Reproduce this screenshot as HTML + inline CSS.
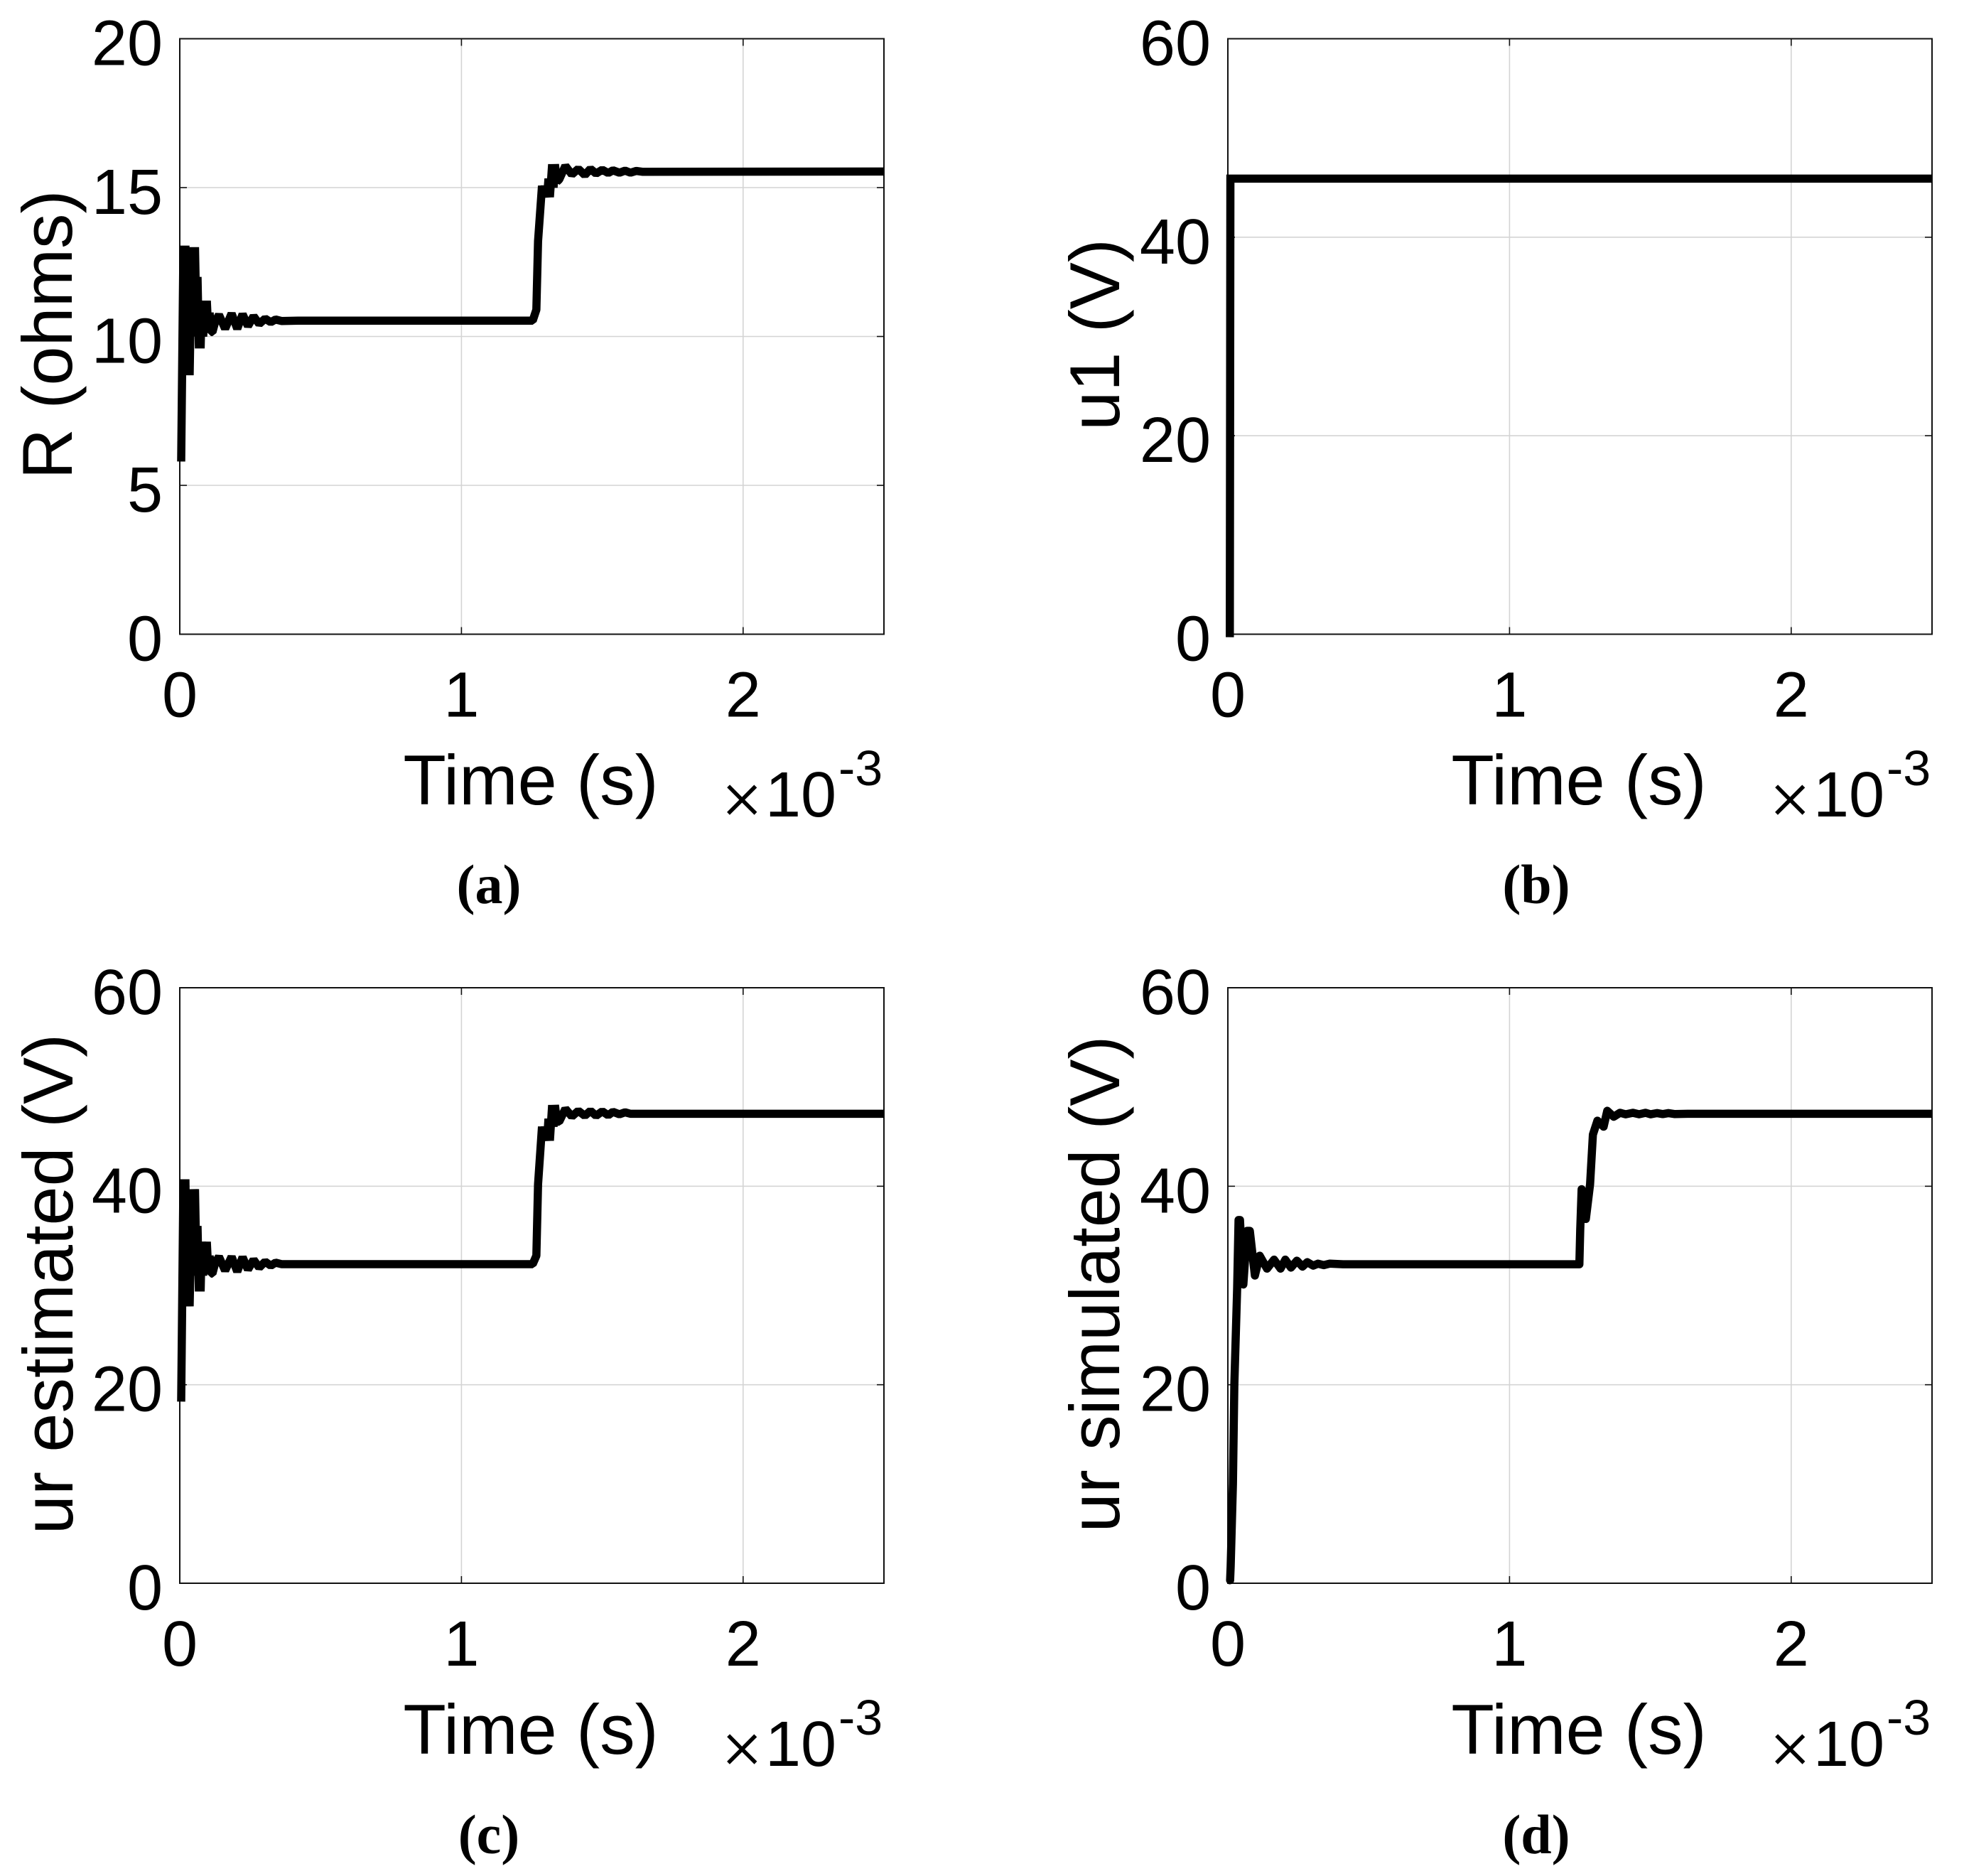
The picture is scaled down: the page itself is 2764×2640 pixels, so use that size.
<!DOCTYPE html>
<html lang="en">
<head>
<meta charset="utf-8">
<title>Four time-response charts</title>
<style>
html,body{margin:0;padding:0;background:#fff;}
svg{display:block;}
text{font-family:"Liberation Sans",Arial,sans-serif;fill:#000;}
.tick{font-size:90px;}
.lab{font-size:99px;}
.times{font-size:100px;stroke:#fff;stroke-width:1.6px;}
.cap{font-family:"Liberation Serif","Times New Roman",serif;font-size:78px;font-weight:bold;}
</style>
</head>
<body>
<svg id="figure" width="2764" height="2640" viewBox="0 0 2764 2640" xmlns="http://www.w3.org/2000/svg">
<rect x="0" y="0" width="2764" height="2640" fill="#fff"/>

<g id="panel-a">
  <text class="lab" transform="translate(101 471) rotate(-90)" text-anchor="middle">R (ohms)</text>
  <text class="lab" x="747" y="1132" text-anchor="middle">Time (s)</text>
  <text class="times" x="1015" y="1159">×</text>
  <text class="tick" x="1077" y="1149">10</text>
  <text style="font-size:70px" x="1180" y="1105">-3</text>
  <text class="cap" x="688" y="1271" text-anchor="middle">(a)</text>
</g>
<g id="panel-b">
  <text class="lab" transform="translate(1575 471) rotate(-90)" text-anchor="middle">u1 (V)</text>
  <text class="lab" x="2222" y="1132" text-anchor="middle">Time (s)</text>
  <text class="times" x="2490" y="1159">×</text>
  <text class="tick" x="2552" y="1149">10</text>
  <text style="font-size:70px" x="2655" y="1105">-3</text>
  <text class="cap" x="2162" y="1271" text-anchor="middle">(b)</text>
</g>
<g id="panel-c">
  <text class="lab" transform="translate(102 1807) rotate(-90)" text-anchor="middle">ur estimated (V)</text>
  <text class="lab" x="747" y="2468" text-anchor="middle">Time (s)</text>
  <text class="times" x="1015" y="2495">×</text>
  <text class="tick" x="1077" y="2485">10</text>
  <text style="font-size:70px" x="1180" y="2441">-3</text>
  <text class="cap" x="688" y="2608" text-anchor="middle">(c)</text>
</g>
<g id="panel-d">
  <text class="lab" transform="translate(1575 1807) rotate(-90)" text-anchor="middle">ur simulated (V)</text>
  <text class="lab" x="2222" y="2468" text-anchor="middle">Time (s)</text>
  <text class="times" x="2490" y="2495">×</text>
  <text class="tick" x="2552" y="2485">10</text>
  <text style="font-size:70px" x="2655" y="2441">-3</text>
  <text class="cap" x="2162" y="2608" text-anchor="middle">(d)</text>
</g>
</svg>

<script>
// Shared x axis (units of 10^-3 s)
var xTicks = [0, 1, 2];
var xMax = 2.5;

// Y tick labels
var yTicksA = [0, 5, 10, 15, 20];
var yTicksB = [0, 20, 40, 60];
var yTicksC = [0, 20, 40, 60];
var yTicksD = [0, 20, 40, 60];

// Panel (a) R (ohms)
var timeA = [0.005,0.013,0.016,0.020,0.025,0.029,0.035,0.040,0.045,0.049,0.052,0.054,0.059,0.063,0.068,0.071,0.074,0.078,0.083,0.091,0.093,0.096,0.101,0.106,0.111,0.116,0.126,0.139,0.161,0.184,0.204,0.223,0.242,0.262,0.282,0.303,0.323,0.340,0.361,0.420,1.253,1.266,1.272,1.286,1.291,1.296,1.304,1.309,1.314,1.322,1.327,1.332,1.339,1.347,1.369,1.392,1.415,1.438,1.458,1.478,1.500,1.521,1.538,1.561,1.581,1.600,1.621,1.644,2.500];
var valuesA = [5.8,13.05,10.5,13.05,9.5,12,8.7,11.5,10,13,11,13,10.5,12,9.6,11,9.6,11.2,10,11.2,10.3,11.2,10.2,10.8,10.15,10.15,10.5,10.73,10.26,10.77,10.26,10.75,10.35,10.68,10.42,10.6,10.48,10.57,10.52,10.53,10.53,10.9,13.2,15.06,14.68,15.06,14.68,15.3,14.68,15.78,15.0,15.78,15.2,15.27,15.73,15.44,15.63,15.42,15.63,15.47,15.6,15.49,15.58,15.5,15.57,15.5,15.56,15.53,15.54];

// Panel (b) u1 (V)
var timeB = [0.007,0.009,2.500];
var valuesB = [-0.3,45.9,45.9];

// Panel (c) ur estimated (V)
var timeC = [0.005,0.013,0.016,0.020,0.025,0.029,0.035,0.040,0.045,0.049,0.052,0.054,0.059,0.063,0.068,0.071,0.074,0.078,0.083,0.091,0.093,0.096,0.101,0.106,0.111,0.116,0.126,0.139,0.161,0.184,0.204,0.223,0.242,0.262,0.282,0.303,0.323,0.340,0.361,0.420,1.253,1.266,1.272,1.286,1.291,1.296,1.304,1.309,1.314,1.322,1.327,1.332,1.339,1.347,1.369,1.392,1.415,1.438,1.458,1.478,1.500,1.521,1.538,1.561,1.581,1.600,1.644,2.500];
var valuesC = [18.3,40.7,32,40.7,29,37,27.9,35,31,39.7,34,39.7,32,36,29.4,33,29.4,34.4,31,34.4,32,34.4,31.5,33,31.2,31.2,32.3,32.9,31.5,32.9,31.4,32.85,31.6,32.6,31.8,32.4,32.0,32.3,32.15,32.15,32.15,33.0,40.2,46.0,44.6,46.0,44.6,46.8,44.6,48.17,46,48.17,46.5,46.5,47.8,47.03,47.6,47.1,47.6,47.1,47.55,47.15,47.5,47.25,47.45,47.3,47.3,47.3];

// Panel (d) ur simulated (V)
var timeD = [0.008,0.010,0.018,0.023,0.033,0.038,0.043,0.055,0.068,0.078,0.096,0.113,0.139,0.164,0.187,0.204,0.224,0.245,0.265,0.282,0.303,0.320,0.340,0.361,0.409,1.248,1.251,1.256,1.271,1.286,1.296,1.312,1.334,1.347,1.370,1.392,1.412,1.438,1.460,1.483,1.501,1.524,1.544,1.564,1.587,1.632,2.500];
var valuesD = [0.3,1.7,10,20,29.7,36.6,36.6,30.1,35.5,35.5,31,33,31.7,32.6,31.7,32.6,31.8,32.5,31.9,32.35,32,32.2,32.05,32.2,32.14,32.14,35.6,39.7,36.7,40.2,45.2,46.6,46,47.6,47,47.4,47.25,47.4,47.25,47.4,47.25,47.37,47.27,47.37,47.27,47.3,47.3];

var SVGNS = 'http://www.w3.org/2000/svg';

function make(tag, attrs, text) {
  var el = document.createElementNS(SVGNS, tag);
  for (var k in attrs) { el.setAttribute(k, attrs[k]); }
  if (text !== undefined) { el.textContent = text; }
  return el;
}

function drawPanel(id, left, top, yTicks, yMax, times, values, join, cap) {
  var width = 991, height = 838;
  var group = document.getElementById(id);
  function xAxis(t) { return left + t / xMax * width; }
  function yAxis(v) { return top + height - v / yMax * height; }

  xTicks.forEach(function (t) {
    var x = xAxis(t);
    if (t > 0) {
      var g = make('line', {x1: x, x2: x, y1: top, y2: top + height, stroke: '#d4d4d4', 'stroke-width': 1.6});
      
      
      group.appendChild(g);
      var m1 = make('line', {x1: x, x2: x, y1: top + height, y2: top + height - 10, stroke: '#111', 'stroke-width': 1.6});
      
      
      group.appendChild(m1);
      var m2 = make('line', {x1: x, x2: x, y1: top, y2: top + 10, stroke: '#111', 'stroke-width': 1.6});
      
      
      group.appendChild(m2);
    }
    var lab = make('text', {'class': 'tick', x: x, y: top + height + 116, 'text-anchor': 'middle'}, String(t));
    
    
    group.appendChild(lab);
  });

  yTicks.forEach(function (v) {
    var y = yAxis(v);
    if (v > 0 && v < yMax) {
      var g = make('line', {x1: left, x2: left + width, y1: y, y2: y, stroke: '#d4d4d4', 'stroke-width': 1.6});
      
      
      group.appendChild(g);
      var m1 = make('line', {x1: left, x2: left + 10, y1: y, y2: y, stroke: '#111', 'stroke-width': 1.6});
      
      
      group.appendChild(m1);
      var m2 = make('line', {x1: left + width, x2: left + width - 10, y1: y, y2: y, stroke: '#111', 'stroke-width': 1.6});
      
      
      group.appendChild(m2);
    }
    var lab = make('text', {'class': 'tick', x: left - 24, y: y + 37, 'text-anchor': 'end'}, String(v));
    
    
    group.appendChild(lab);
  });

  var box = make('rect', {x: left, y: top, width: width, height: height, fill: 'none', stroke: '#111', 'stroke-width': 2});
  
  
  group.appendChild(box);

  var clipId = id + '-clip';
  var clip = make('clipPath', {id: clipId});
  clip.appendChild(make('rect', {x: left - 30, y: top - 30, width: width + 30, height: height + 60}));
  group.appendChild(clip);

  var pts = times.map(function (t, i) {
    return xAxis(t).toFixed(2) + ',' + yAxis(values[i]).toFixed(2);
  }).join(' ');
  var line = make('polyline', {points: pts, fill: 'none', stroke: '#000', 'stroke-width': 11.5, 'stroke-linejoin': join, 'stroke-linecap': cap, 'clip-path': 'url(#' + clipId + ')'});
  
  
  group.appendChild(line);
}

drawPanel('panel-a', 253, 54.5, yTicksA, 20, timeA, valuesA, 'bevel', 'butt');
drawPanel('panel-b', 1728, 54.5, yTicksB, 60, timeB, valuesB, 'miter', 'butt');
drawPanel('panel-c', 253, 1390, yTicksC, 60, timeC, valuesC, 'bevel', 'butt');
drawPanel('panel-d', 1728, 1390, yTicksD, 60, timeD, valuesD, 'round', 'round');
</script>
</body>
</html>
